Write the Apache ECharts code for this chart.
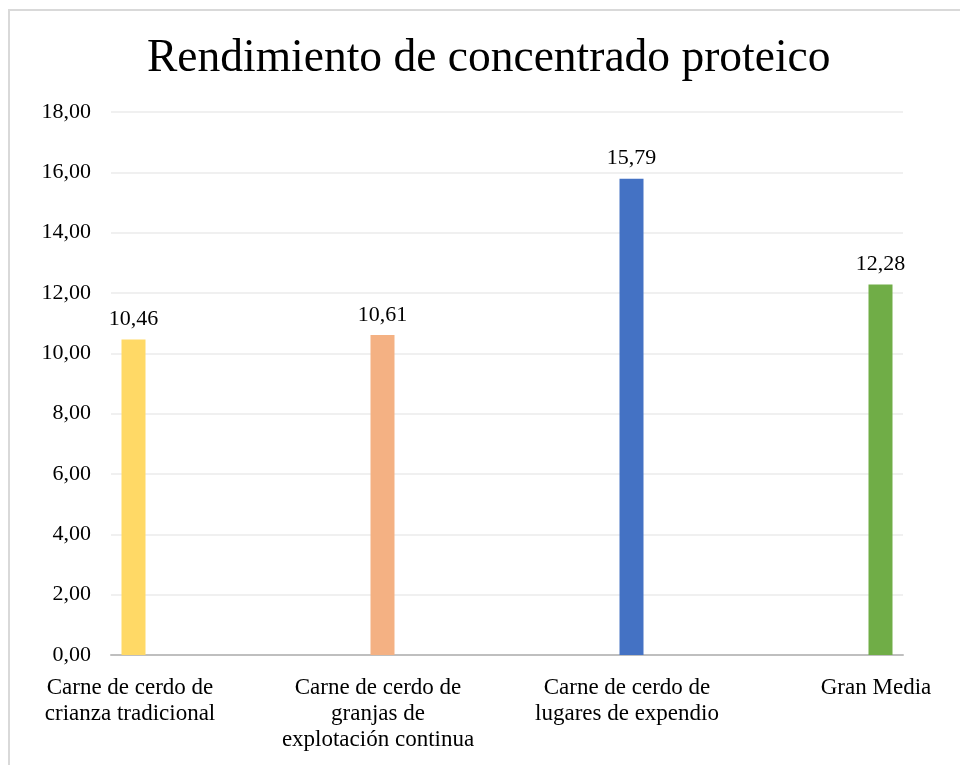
<!DOCTYPE html>
<html>
<head>
<meta charset="utf-8">
<script src="https://cdn.jsdelivr.net/npm/echarts@6/dist/echarts.min.js"></script>
<style>
  html, body { margin: 0; padding: 0; background: #fff; }
  #frame { position: absolute; left: 8px; top: 9px; width: 960px; height: 770px; border: 2px solid #d9d9d9; box-sizing: border-box; }
  #chart { position: absolute; left: 0; top: 0; width: 960px; height: 765px; }
</style>
</head>
<body>
<div id="frame"></div>
<div id="chart"></div>
<script>
  // datos
  var categories = ['Carne de cerdo de\ncrianza tradicional', 'Carne de cerdo de\ngranjas de\nexplotación continua', 'Carne de cerdo de\nlugares de expendio', 'Gran Media'];
  var values = [10.46, 10.61, 15.79, 12.28];
  var colors = ['#FFD966', '#F4B183', '#4472C4', '#70AD47'];
  var yTicks = { min: 0, max: 18, interval: 2 };

  // shift of each label so it sits under its bar (bars sit in their own slot)
  var labelShift = [-80, -30, 21, 72];

  var fmt = function (v) { return v.toFixed(2).replace('.', ','); };

  var rich = {};
  labelShift.forEach(function (d, i) {
    rich['s' + i] = {
      fontFamily: 'Liberation Serif',
      fontSize: 23,
      lineHeight: 26,
      color: '#000',
      padding: d < 0 ? [0, -2 * d, 0, 0] : [0, 0, 0, 2 * d]
    };
  });

  var series = values.map(function (v, i) {
    var data = values.map(function (x, j) { return j === i ? v : '-'; });
    return {
      type: 'bar',
      data: data,
      barWidth: 24,
      barGap: '112.5%',
      itemStyle: { color: colors[i] },
      label: {
        show: true,
        position: 'top',
        distance: 9,
        fontFamily: 'Liberation Serif',
        fontSize: 22,
        color: '#000',
        formatter: function (p) { return fmt(p.value); }
      }
    };
  });

  var myChart = echarts.init(document.getElementById('chart'));
  myChart.setOption({
    animation: false,
    title: {
      text: 'Rendimiento de concentrado proteico',
      left: 142,
      top: 31,
      textStyle: { fontFamily: 'Liberation Serif', fontSize: 45.5, fontWeight: 'normal', color: '#000' }
    },
    grid: { left: 111, right: 57, top: 112, bottom: 110 },
    xAxis: {
      type: 'category',
      data: categories,
      axisLine: { lineStyle: { color: '#BFBFBF', width: 2 } },
      axisTick: { show: false },
      axisLabel: {
        interval: 0,
        margin: 20,
        formatter: function (val, idx) {
          return val.split('\n').map(function (s) { return '{s' + idx + '|' + s + '}'; }).join('\n');
        },
        rich: rich
      }
    },
    yAxis: {
      type: 'value',
      min: yTicks.min,
      max: yTicks.max,
      interval: yTicks.interval,
      axisLine: { show: false },
      axisTick: { show: false },
      axisLabel: {
        margin: 20,
        fontFamily: 'Liberation Serif',
        fontSize: 22,
        color: '#000',
        formatter: function (v) { return fmt(v); }
      },
      splitLine: { lineStyle: { color: '#F0F0F0', width: 2 } }
    },
    series: series
  });
</script>
</body>
</html>
